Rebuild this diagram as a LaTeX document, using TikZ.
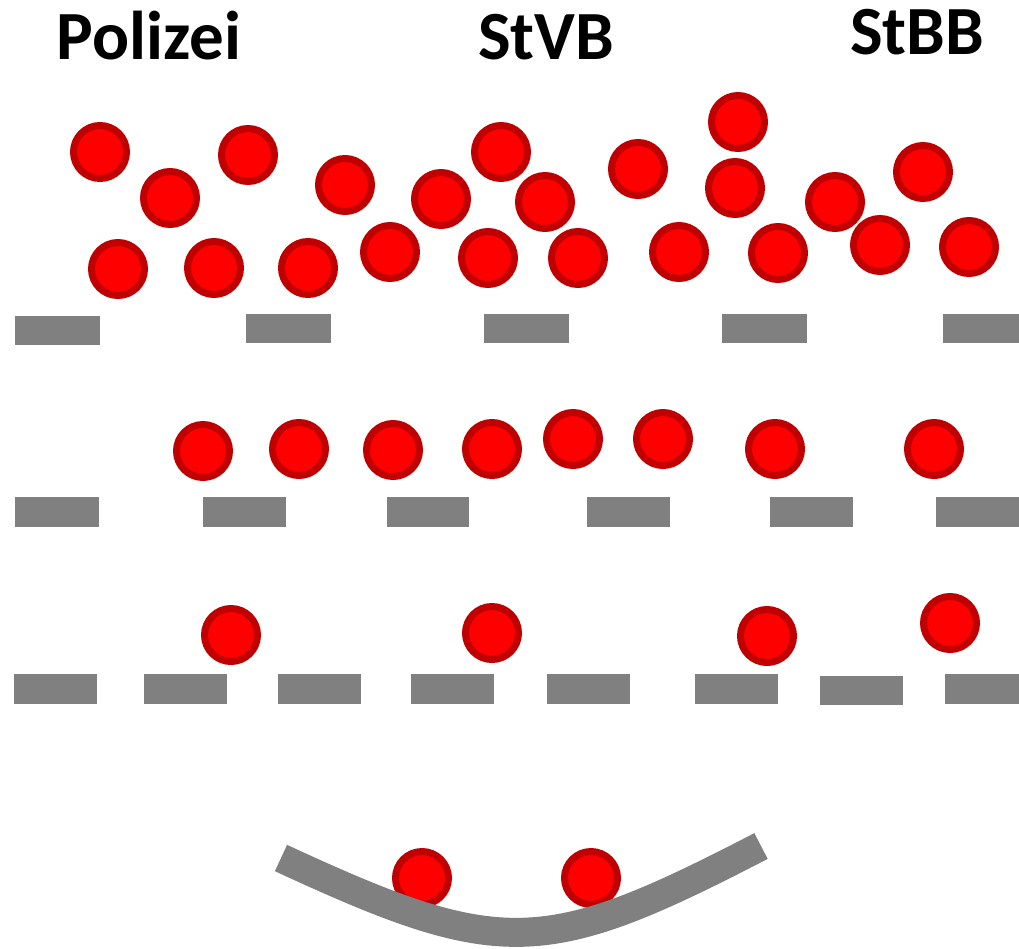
\documentclass[tikz,border=0pt]{standalone}
\usepackage{fontspec}
\setmainfont{Carlito}
\definecolor{ballfill}{HTML}{FF0000}
\definecolor{ballline}{HTML}{C00000}
\definecolor{plategray}{HTML}{808080}
\begin{document}
\begin{tikzpicture}[x=1pt,y=-1pt,
  ball/.style={circle,draw=ballline,fill=ballfill,line width=7pt,minimum size=53pt,inner sep=0pt},
  plate/.style={fill=plategray,draw=none},
  title/.style={font=\fontsize{69}{69}\selectfont\bfseries,inner sep=0pt,anchor=base}]
\useasboundingbox (0,0) rectangle (1019,948);
% titles
\node[title] (t1) at (149,59) {Polizei};
\node[title] (t2) at (546,59) {StVB};
\node[title] (t3) at (917,54) {StBB};
% row 1 plates
\foreach \a/\b/\c/\d [count=\i] in {15/316/100/345, 246/314/331/343, 484/314/569/343, 722/314/807/343, 943/314/1019/343}
  \fill[plate] (\a,\b) rectangle (\c,\d);
% row 2 plates
\foreach \a/\b/\c/\d in {15/497/99/527, 203/497/286/527, 387/497/469/527, 587/497/670/527, 770/497/853/527, 936/497/1019/527}
  \fill[plate] (\a,\b) rectangle (\c,\d);
% row 3 plates
\foreach \a/\b/\c/\d in {14/674/97/704, 144/674/227/704, 278/674/361/704, 411/674/494/704, 547/674/630/704, 695/674/778/704, 820/676/903/705, 945/674/1019/704}
  \fill[plate] (\a,\b) rectangle (\c,\d);
% row 1 balls
\foreach \x/\y [count=\i] in {100/152, 170/198, 248/155, 345/185, 118/269, 214/268, 308/268, 390/252, 441/199, 501/152, 545/202, 488/258, 578/258, 638/169, 738/122, 735/188, 679/252, 778/253, 835/202, 923/172, 880/245, 969/247}
  \node[ball] (a\i) at (\x,\y) {};
% row 2 balls
\foreach \x/\y [count=\i] in {203/451, 299/449, 393/450, 492/449, 573/439, 663/439, 775/449, 934/449}
  \node[ball] (b\i) at (\x,\y) {};
% row 3 balls
\foreach \x/\y [count=\i] in {231/635, 492/633, 767/636, 950/623}
  \node[ball] (c\i) at (\x,\y) {};
% bottom balls
\node[ball] (d1) at (422,878) {};
\node[ball] (d2) at (591,878) {};
% bowl
\coordinate (bl) at (281,858);
\coordinate (br) at (761,846);
\draw[plategray,line width=29pt] (bl) .. controls (501,960) and (545,958) .. (br);
\end{tikzpicture}
\end{document}
